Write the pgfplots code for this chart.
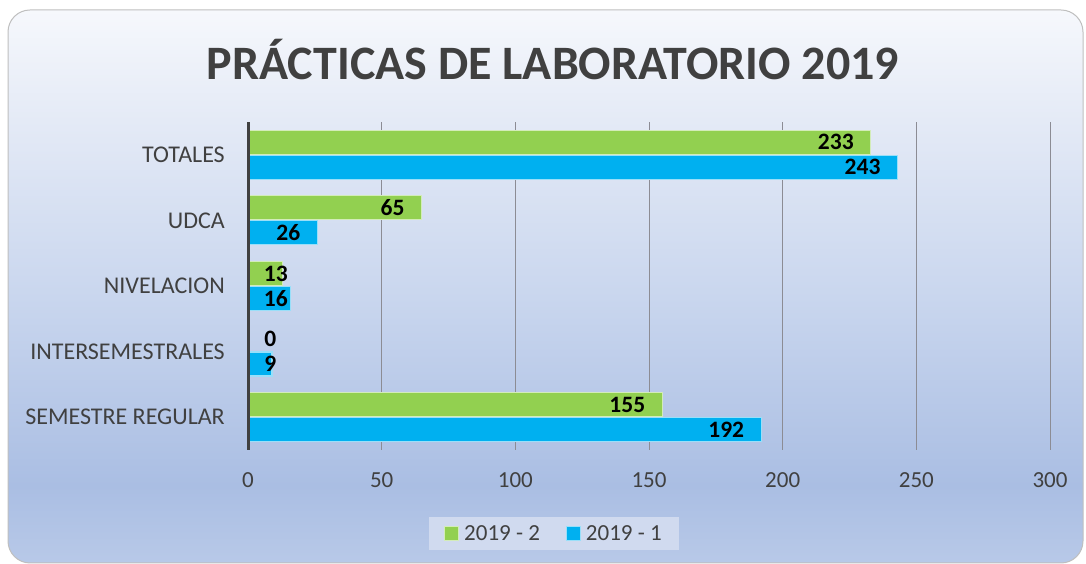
\documentclass[border=0pt]{standalone}
\usepackage{fontspec}
\setmainfont{Carlito}
\usepackage{pgfplots}
\pgfplotsset{compat=1.18}
\usepackage{pgfplotstable}

\definecolor{verde}{HTML}{92D050}
\definecolor{azul}{HTML}{00B0F0}
\definecolor{texto}{HTML}{404040}
\definecolor{rejilla}{HTML}{8C8C94}
\definecolor{leyenda}{HTML}{D0DAEF}
\definecolor{fa}{HTML}{B8C9E8}
\definecolor{fb}{HTML}{AABEE3}
\definecolor{fc}{HTML}{C9D6EE}
\definecolor{fd}{HTML}{E4EAF6}
\definecolor{fe}{HTML}{F6F8FC}

% fondo: degradado vertical (abajo -> arriba)
\pgfdeclareverticalshading{fondo}{100bp}{
  color(0bp)=(fa); color(25bp)=(fa); color(32bp)=(fb);
  color(49bp)=(fc); color(65bp)=(fd); color(75bp)=(fe); color(100bp)=(fe)}

\pgfplotstableread{
pos g b
0 155 192
1 0 9
2 13 16
3 65 26
4 233 243
}\datos

\begin{document}
\begin{tikzpicture}
\useasboundingbox (0pt,0pt) rectangle (1086pt,564pt);
\shadedraw[shading=fondo, draw=black!25, line width=1pt, rounded corners=22pt]
  (8pt,1pt) rectangle (1083pt,554pt);
\node[anchor=base, font=\fontsize{48}{50}\selectfont\bfseries, text=texto]
  at (553pt,484pt) {PRÁCTICAS DE LABORATORIO 2019};

\begin{axis}[
    at={(248pt,114pt)}, anchor=south west,
    width=802pt, height=328pt, scale only axis,
    xmin=0, xmax=300, ymin=-0.5, ymax=4.5,
    xtick={0,50,...,300},
    ytick={0,...,4},
    yticklabels={SEMESTRE REGULAR,INTERSEMESTRALES,NIVELACION,UDCA,TOTALES},
    axis line style={draw=none},
    major tick length=0pt,
    xmajorgrids,
    major grid style={draw=rejilla, line width=1pt},
    ticklabel style={font=\fontsize{23}{25}\selectfont, text=texto, inner sep=0pt},
    xticklabel style={anchor=center, yshift=-30pt},
    yticklabel style={anchor=east, xshift=-23pt, font=\fontsize{24}{26}\selectfont},
    /pgf/number format/assume math mode=true,
    clip=false,
    unbounded coords=discard,
    legend columns=2,
    legend style={at={(0.3815,-0.2546)}, anchor=center, draw=none,
      fill=leyenda, font=\fontsize{23}{25}\selectfont, text=texto,
      inner xsep=15pt, inner ysep=6pt,
      /tikz/every even column/.append style={column sep=24pt},
      /tikz/every odd column/.append style={column sep=3pt}},
    legend image code/.code={\draw[#1, line width=1pt] (0pt,-7pt) rectangle (14pt,7pt);},
  ]
  \addplot[xbar, bar width=24pt, bar shift=12.5pt, fill=verde,
    draw=verde!40!white, line width=1.2pt,
    x filter/.expression={x==0 ? nan : x}]
    table[x=g, y=pos]{\datos};
  \addlegendentry{2019 - 2}
  \addplot[xbar, bar width=24pt, bar shift=-12.5pt, fill=azul,
    draw=azul!40!white, line width=1.2pt] table[x=b, y=pos]{\datos};
  \addlegendentry{2019 - 1}

  % etiquetas de datos (dentro del extremo, o desde la base si no caben)
  \addplot[draw=none, mark=none, forget plot, nodes near coords, point meta=explicit,
    nodes near coords style={anchor=east, xshift=-17pt, yshift=12.5pt,
      font=\fontsize{23.5}{25}\selectfont\bfseries, text=black, inner sep=0pt}]
    table[y=pos, meta=g,
      x expr={\thisrow{g}<10 ? max(\thisrow{g},17) : max(\thisrow{g},21.3)}]{\datos};
  \addplot[draw=none, mark=none, forget plot, nodes near coords, point meta=explicit,
    nodes near coords style={anchor=east, xshift=-17pt, yshift=-12.5pt,
      font=\fontsize{23.5}{25}\selectfont\bfseries, text=black, inner sep=0pt}]
    table[y=pos, meta=b,
      x expr={\thisrow{b}<10 ? max(\thisrow{b},17) : max(\thisrow{b},21.3)}]{\datos};

  % eje vertical oscuro
  \draw[texto, line width=3pt] (axis cs:0,-0.5) -- (axis cs:0,4.5);
\end{axis}
\end{tikzpicture}
\end{document}
